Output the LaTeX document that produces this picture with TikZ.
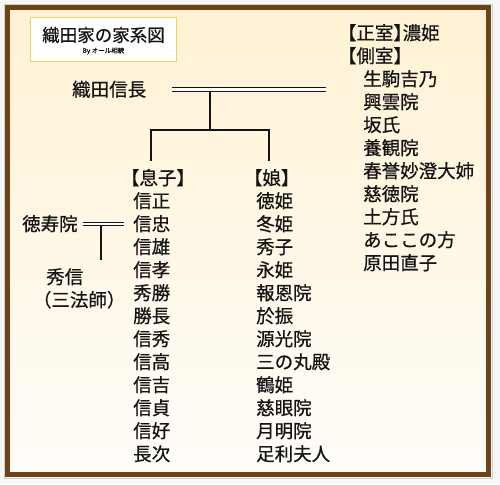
\documentclass[tikz,border=0pt]{standalone}
\usepackage{fontspec}
\setmainfont[RawFeature=+halt,FakeBold=0.6]{Noto Sans CJK JP}
\definecolor{oframe}{RGB}{110,68,22}
\definecolor{ocream}{RGB}{255,242,212}
\definecolor{owhite}{RGB}{255,253,249}
\definecolor{ogold}{RGB}{240,208,96}
\definecolor{oink}{RGB}{20,20,20}

\begin{document}
\begin{tikzpicture}[x=1pt,y=-1pt,
  person/.style={anchor=west,inner sep=0pt,text=oink,
                 font=\fontsize{18.5}{18.5}\selectfont,
                 text height=16pt,text depth=2.5pt},
  tie/.style={double,double distance=2.2pt,line width=1.1pt,draw=oink},
  link/.style={line width=1.1pt,draw=oink}]
  % page, frame
  \useasboundingbox (0,0) rectangle (500,484);
  \fill[black!3] (0,0) rectangle (500,484);
  \draw[black!18,line width=0.8pt] (4,4) rectangle (492,478);
  \shade[top color=ocream,bottom color=owhite] (10,10) rectangle (486,472);
  \draw[oframe,line width=5pt] (7.5,7.5) rectangle (488.5,474.5);

  % title
  \node[draw=ogold,fill=white,line width=1.3pt,inner sep=0pt,
        minimum width=146pt,minimum height=44pt]
        (titlebox) at (103.5,39.5) {};
  \node[inner sep=0pt,text=oink,font=\fontsize{17.5}{17.5}\selectfont]
        (title) at (103.5,35) {織田家の家系図};
  \node[inner sep=0pt,text=oink,font=\fontsize{6.5}{6.5}\selectfont]
        (byline) at (103.5,51) {By オール相続};

  % Nobunaga and his wives
  \node[person] (nobunaga) at (72,89.5) {織田信長};
  \coordinate (tieend) at (326,89.5);
  \draw[tie,shorten <=26pt] (nobunaga.east) -- (tieend);

  \node[person] (seishitsu)  at (347,33) {【正室】濃姫};
  \node[person] (sokushitsu) at (347,56) {【側室】};
  \node[person] (w1) at (363,79)  {生駒吉乃};
  \node[person] (w2) at (363,102) {興雲院};
  \node[person] (w3) at (363,125) {坂氏};
  \node[person] (w4) at (363,148) {養観院};
  \node[person] (w5) at (363,171) {春誉妙澄大姉};
  \node[person] (w6) at (363,194) {慈徳院};
  \node[person] (w7) at (363,217) {土方氏};
  \node[person] (w8) at (363,240) {あここの方};
  \node[person] (w9) at (363,263) {原田直子};

  % children
  \coordinate (tiemid)   at (210,91.7);
  \coordinate (kids)     at (210,130);
  \coordinate (sonsdrop) at (151,161);
  \coordinate (dausdrop) at (269,161);
  \draw[link] (tiemid) -- (kids);
  \draw[link] (sonsdrop) |- (kids) -| (dausdrop);

  \node[person] (sons) at (130,178) {【息子】};
  \node[person] (s1)  at (133,201) {信正};
  \node[person] (s2)  at (133,224) {信忠};
  \node[person] (s3)  at (133,247) {信雄};
  \node[person] (s4)  at (133,270) {信孝};
  \node[person] (s5)  at (133,293) {秀勝};
  \node[person] (s6)  at (133,316) {勝長};
  \node[person] (s7)  at (133,339) {信秀};
  \node[person] (s8)  at (133,362) {信高};
  \node[person] (s9)  at (133,385) {信吉};
  \node[person] (s10) at (133,408) {信貞};
  \node[person] (s11) at (133,431) {信好};
  \node[person] (s12) at (133,454) {長次};

  \node[person] (daus) at (253,178) {【娘】};
  \node[person] (d1)  at (256,201) {徳姫};
  \node[person] (d2)  at (256,224) {冬姫};
  \node[person] (d3)  at (256,247) {秀子};
  \node[person] (d4)  at (256,270) {永姫};
  \node[person] (d5)  at (256,293) {報恩院};
  \node[person] (d6)  at (256,316) {於振};
  \node[person] (d7)  at (256,339) {源光院};
  \node[person] (d8)  at (256,362) {三の丸殿};
  \node[person] (d9)  at (256,385) {鶴姫};
  \node[person] (d10) at (256,408) {慈眼院};
  \node[person] (d11) at (256,431) {月明院};
  \node[person] (d12) at (256,454) {足利夫人};

  % Nobutada's line
  \node[person] (tokuju) at (22,224) {徳寿院};
  \draw[tie,shorten <=5.5pt,shorten >=9pt] (tokuju.east) -- (s2.west);
  \coordinate (tokujumid) at (101,226.2);
  \coordinate (hidedrop)  at (101,260);
  \draw[link] (tokujumid) -- (hidedrop);
  \node[person] (hidenobu) at (46,277) {秀信};
  \node[person] (sanboshi) at (42,300) {（三法師）};
\end{tikzpicture}
\end{document}
